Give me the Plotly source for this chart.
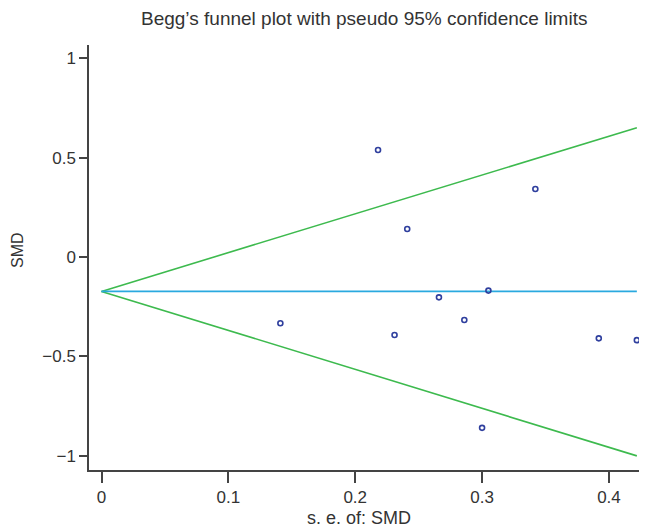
import plotly.graph_objects as go

# Study estimates
se_smd = [0.141, 0.218, 0.241, 0.231, 0.266, 0.286, 0.305, 0.300, 0.342, 0.392, 0.422]
smd = [-0.333, 0.538, 0.141, -0.392, -0.203, -0.317, -0.169, -0.859, 0.342, -0.409, -0.418]

# Pooled estimate line and pseudo 95% limits (end points)
line_se = [0.0, 0.422]
pooled = [-0.173, -0.173]
upper_limit = [-0.173, 0.650]
lower_limit = [-0.173, -1.000]

x_ticks = [0, 0.1, 0.2, 0.3, 0.4]
x_tick_labels = ["0", "0.1", "0.2", "0.3", "0.4"]
y_ticks = [1, 0.5, 0, -0.5, -1]
y_tick_labels = ["1", "0.5", "0", "\u22120.5", "\u22121"]

FONT = "Liberation Sans, Arial, sans-serif"
AX = "#444444"
TXT = "#333333"

# The page body has an 8px margin, so the figure is drawn offset by (8, 8).
OFF = 8
W, H = 647 - OFF, 529 - OFF
L, R, T, B = 89 - OFF, 647 - OFF, 45 - OFF, 470 - OFF
PW, PH = R - L, B - T

fig = go.Figure()
fig.add_trace(go.Scatter(x=line_se, y=upper_limit, mode="lines",
                         line=dict(color="#3dba4e", width=1.6), hoverinfo="skip"))
fig.add_trace(go.Scatter(x=line_se, y=lower_limit, mode="lines",
                         line=dict(color="#3dba4e", width=1.6), hoverinfo="skip"))
fig.add_trace(go.Scatter(x=line_se, y=pooled, mode="lines",
                         line=dict(color="#2aa9df", width=1.6), hoverinfo="skip"))
fig.add_trace(go.Scatter(x=se_smd, y=smd, mode="markers", cliponaxis=False,
                         marker=dict(symbol="circle-open", size=5, color="#2f3f9e",
                                     line=dict(width=1.6, color="#2f3f9e"))))

fig.update_layout(
    width=W, height=H,
    margin=dict(l=L, r=W - R, t=T, b=H - B, autoexpand=False),
    paper_bgcolor="white", plot_bgcolor="white",
    showlegend=False,
    font=dict(family=FONT, size=17, color=TXT),
    xaxis=dict(range=[-0.00985, 0.43], tickvals=x_ticks, ticktext=x_tick_labels,
               automargin=False,
               showgrid=False, zeroline=False, showline=True, linecolor=AX, linewidth=1.5,
               ticks="outside", ticklen=11, tickwidth=1.5, tickcolor=AX,
               tickfont=dict(size=17, color=TXT)),
    yaxis=dict(range=[-1.071, 1.066], tickvals=y_ticks, ticktext=y_tick_labels,
               automargin=False,
               showgrid=False, zeroline=False, showline=True, linecolor=AX, linewidth=1.5,
               ticks="outside", ticklen=8, tickwidth=1.5, tickcolor=AX,
               tickfont=dict(size=17, color=TXT)),
    annotations=[
        dict(text="Begg\u2019s funnel plot with pseudo 95% confidence limits",
             xref="paper", yref="paper", x=(363.5 - 89) / PW, y=1 + (T - 10) / PH,
             xanchor="center", yanchor="middle", showarrow=False, borderpad=0,
             font=dict(size=19, color=TXT)),
        dict(text="s. e. of: SMD", xref="paper", yref="paper",
             x=(359 - 89) / PW, y=-(518 - 470) / PH,
             xanchor="center", yanchor="middle", showarrow=False,
             font=dict(size=18, color=TXT)),
        dict(text="SMD", xref="paper", yref="paper", textangle=-90,
             x=-(89 - 18) / PW, y=(470 - 250) / PH,
             xanchor="center", yanchor="middle", showarrow=False,
             font=dict(size=16, color=TXT)),
    ],
)

fig.write_html("out.html")
